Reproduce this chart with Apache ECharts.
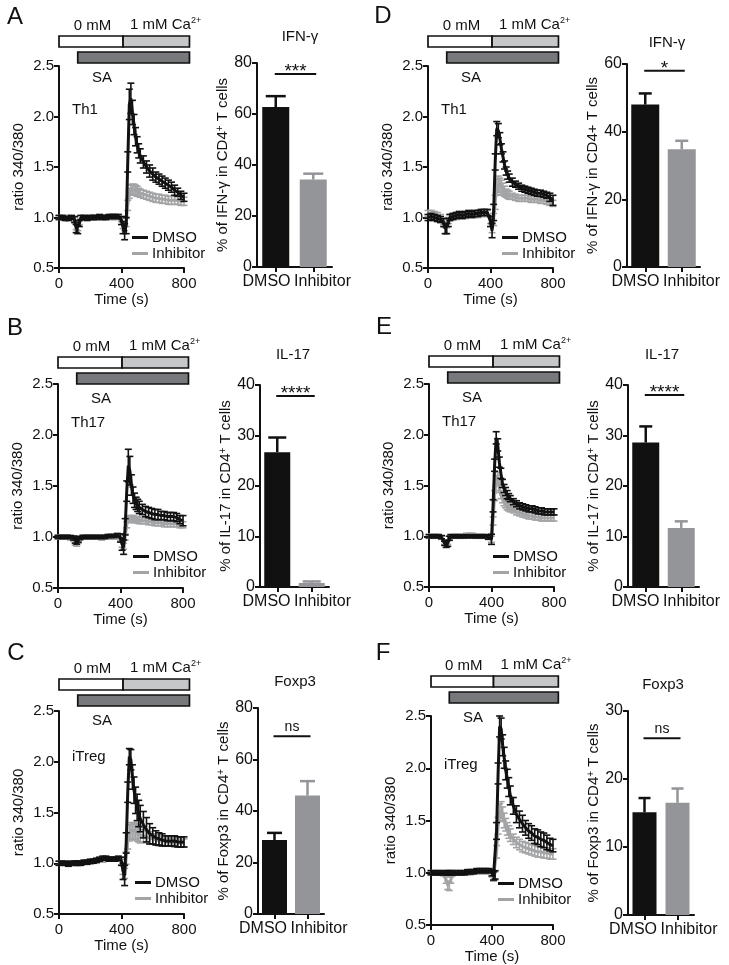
<!DOCTYPE html>
<html><head><meta charset="utf-8">
<script src="https://cdn.jsdelivr.net/npm/echarts/dist/echarts.min.js"></script>
<style>html,body{margin:0;padding:0;background:#fff}#c{width:729px;height:965px}</style>
</head><body><div id="c"></div>
<script>
// ---------- DATA ----------
const timeS = [0,20,40,60,80,100,110,120,130,140,160,180,200,220,240,260,280,300,320,340,360,380,400,410,420,430,440,450,460,470,480,490,500,510,520,540,560,580,600,620,640,660,680,700,720,740,760,780,800];

const dmsoA = [1.00,1.00,0.99,0.99,1.00,0.98,0.89,0.88,0.94,1.00, 1.00,0.99,1.00,1.00,1.00,1.01,1.00,1.00,1.01,1.01,1.01,1.01, 0.97,0.90,0.86,0.92,1.55,2.12,2.18,2.04,1.92,1.80,1.72,1.66,1.61, 1.55,1.50,1.46,1.43,1.40,1.38,1.36,1.34,1.32,1.30,1.27,1.25,1.22,1.20];
const dmsoErrA = [0.02,0.02,0.02,0.02,0.02,0.03,0.04,0.04,0.03,0.02, 0.02,0.02,0.02,0.02,0.02,0.02,0.02,0.02,0.02,0.02,0.02,0.02, 0.04,0.06,0.08,0.08,0.10,0.15,0.15,0.12,0.10,0.09,0.08,0.07,0.07, 0.06,0.06,0.06,0.06,0.05,0.05,0.05,0.05,0.05,0.05,0.05,0.04,0.04,0.04];
const inhA = [1.00,1.00,1.00,1.00,1.00,0.98,0.91,0.90,0.95,1.00, 1.00,1.00,1.00,1.00,1.00,1.00,1.00,1.00,1.00,1.00,1.00,1.00, 0.98,0.92,0.90,0.95,1.12,1.24,1.27,1.28,1.28,1.27,1.26,1.25,1.24, 1.23,1.22,1.21,1.20,1.19,1.19,1.18,1.18,1.17,1.17,1.17,1.17,1.16,1.16];
const inhErrA = [0.02,0.02,0.02,0.02,0.02,0.02,0.03,0.03,0.02,0.02, 0.02,0.02,0.02,0.02,0.02,0.02,0.02,0.02,0.02,0.02,0.02,0.02, 0.02,0.03,0.03,0.04,0.05,0.05,0.05,0.05,0.05,0.05,0.05,0.04,0.04, 0.04,0.04,0.04,0.04,0.04,0.04,0.04,0.04,0.04,0.04,0.04,0.04,0.04,0.04];

const dmsoB = [1.00,1.00,1.00,1.00,1.00,0.99,0.97,0.96,0.97,0.99, 1.00,1.00,1.00,1.00,1.00,1.00,1.00,1.00,1.01,1.01,1.01,1.02, 0.99,0.93,0.90,1.10,1.45,1.70,1.65,1.51,1.41,1.36,1.33,1.31,1.29, 1.27,1.25,1.24,1.23,1.22,1.22,1.21,1.21,1.20,1.20,1.20,1.19,1.17,1.16];
const dmsoErrB = [0.015,0.015,0.015,0.015,0.015,0.02,0.03,0.03,0.02,0.015, 0.015,0.015,0.015,0.015,0.015,0.015,0.015,0.015,0.015,0.015,0.015,0.015, 0.04,0.06,0.07,0.08,0.10,0.16,0.14,0.10,0.08,0.07,0.06,0.06,0.06, 0.05,0.05,0.05,0.05,0.05,0.05,0.04,0.04,0.04,0.04,0.04,0.04,0.04,0.05];
const inhB = [1.00,1.00,1.00,1.00,0.99,0.98,0.95,0.94,0.96,0.99, 1.00,1.00,1.00,1.00,1.00,1.00,0.99,1.00,1.00,1.00,1.00,1.00, 0.98,0.93,0.91,1.00,1.12,1.17,1.18,1.18,1.18,1.17,1.17,1.17,1.16, 1.16,1.16,1.15,1.15,1.14,1.14,1.14,1.13,1.13,1.13,1.13,1.13,1.12,1.12];
const inhErrB = [0.02,0.02,0.02,0.02,0.02,0.02,0.03,0.03,0.02,0.02, 0.02,0.02,0.02,0.02,0.02,0.02,0.02,0.02,0.02,0.02,0.02,0.02, 0.02,0.03,0.03,0.03,0.03,0.03,0.03,0.03,0.03,0.03,0.03,0.03,0.03, 0.03,0.03,0.03,0.03,0.03,0.03,0.03,0.03,0.03,0.03,0.03,0.03,0.03,0.03];

const dmsoC = [1.00,1.00,1.00,0.99,1.00,1.00,1.00,1.00,1.00,1.00, 1.01,1.01,1.02,1.02,1.03,1.04,1.05,1.05,1.04,1.04,1.04,1.05, 1.02,0.92,0.88,1.20,1.70,2.05,2.02,1.85,1.72,1.62,1.55,1.49,1.44, 1.38,1.33,1.29,1.27,1.25,1.24,1.23,1.22,1.22,1.22,1.22,1.21,1.21,1.21];
const dmsoErrC = [0.02,0.02,0.02,0.02,0.02,0.02,0.02,0.02,0.02,0.02, 0.02,0.02,0.02,0.02,0.02,0.02,0.02,0.02,0.02,0.02,0.02,0.02, 0.04,0.08,0.10,0.10,0.10,0.08,0.10,0.12,0.13,0.13,0.13,0.13,0.13, 0.13,0.12,0.10,0.08,0.07,0.06,0.06,0.05,0.05,0.05,0.05,0.05,0.05,0.05];
const inhC = [1.00,1.00,1.00,1.00,1.00,1.00,1.00,1.00,1.00,1.00, 1.01,1.01,1.01,1.02,1.02,1.03,1.03,1.04,1.04,1.04,1.04,1.04, 1.01,0.93,0.90,1.05,1.22,1.30,1.32,1.32,1.32,1.31,1.30,1.29,1.28, 1.27,1.26,1.25,1.24,1.23,1.22,1.22,1.21,1.21,1.21,1.20,1.20,1.20,1.20];
const inhErrC = [0.02,0.02,0.02,0.02,0.02,0.02,0.02,0.02,0.02,0.02, 0.02,0.02,0.02,0.02,0.02,0.02,0.02,0.02,0.02,0.02,0.02,0.02, 0.03,0.04,0.05,0.06,0.08,0.08,0.08,0.08,0.08,0.08,0.08,0.08,0.08, 0.06,0.06,0.06,0.05,0.05,0.05,0.04,0.04,0.04,0.04,0.04,0.04,0.04,0.04];

const dmsoD = [1.00,1.01,1.00,0.99,0.98,0.95,0.89,0.89,0.95,1.00, 1.01,1.02,1.03,1.02,1.03,1.04,1.03,1.04,1.04,1.05,1.05,1.05, 0.96,0.87,1.05,1.55,1.88,1.86,1.78,1.68,1.60,1.52,1.46,1.42,1.39, 1.35,1.33,1.31,1.29,1.28,1.27,1.26,1.25,1.24,1.24,1.23,1.22,1.20,1.17];
const dmsoErrD = [0.03,0.03,0.03,0.03,0.03,0.04,0.05,0.05,0.04,0.03, 0.03,0.03,0.03,0.03,0.03,0.03,0.03,0.03,0.03,0.03,0.03,0.03, 0.05,0.07,0.08,0.08,0.07,0.07,0.06,0.05,0.05,0.04,0.04,0.04,0.04, 0.04,0.03,0.03,0.03,0.03,0.03,0.03,0.03,0.03,0.03,0.03,0.03,0.04,0.05];
const inhD = [1.04,1.04,1.03,1.02,1.00,0.96,0.93,0.93,0.97,1.00, 1.01,1.01,1.02,1.02,1.02,1.03,1.03,1.03,1.03,1.04,1.04,1.04, 0.98,0.90,0.98,1.15,1.30,1.33,1.32,1.30,1.28,1.26,1.24,1.23,1.22, 1.21,1.20,1.19,1.19,1.19,1.19,1.18,1.18,1.18,1.17,1.17,1.16,1.15,1.14];
const inhErrD = [0.03,0.03,0.03,0.03,0.03,0.03,0.03,0.03,0.03,0.03, 0.03,0.03,0.03,0.03,0.03,0.03,0.03,0.03,0.03,0.03,0.03,0.03, 0.04,0.05,0.06,0.07,0.08,0.08,0.07,0.07,0.06,0.05,0.04,0.04,0.04, 0.03,0.03,0.03,0.03,0.03,0.03,0.03,0.03,0.03,0.03,0.03,0.03,0.03,0.03];

const dmsoE = [1.00,1.00,1.00,1.00,0.99,0.93,0.92,0.93,0.98,1.00, 1.00,1.00,1.00,1.00,1.00,1.00,1.00,1.00,1.00,1.00,1.00,0.99, 0.97,1.30,1.70,1.97,1.90,1.73,1.62,1.52,1.47,1.44,1.41,1.39,1.37, 1.34,1.32,1.30,1.29,1.28,1.27,1.27,1.26,1.25,1.25,1.24,1.24,1.24,1.24];
const dmsoErrE = [0.015,0.015,0.015,0.015,0.015,0.02,0.03,0.03,0.02,0.015, 0.015,0.015,0.015,0.015,0.015,0.015,0.015,0.015,0.015,0.015,0.015,0.02, 0.05,0.06,0.06,0.06,0.06,0.05,0.05,0.04,0.04,0.04,0.04,0.03,0.03, 0.03,0.03,0.03,0.03,0.03,0.03,0.03,0.03,0.03,0.03,0.03,0.03,0.03,0.03];
const inhE = [1.00,1.00,1.00,1.00,0.99,0.94,0.93,0.94,0.98,1.00, 1.00,1.00,1.00,1.00,1.01,1.01,1.01,1.00,1.00,1.00,1.00,0.99, 0.97,1.15,1.40,1.55,1.58,1.47,1.41,1.37,1.34,1.32,1.30,1.29,1.28, 1.26,1.24,1.23,1.22,1.21,1.20,1.20,1.19,1.19,1.18,1.18,1.18,1.18,1.18];
const inhErrE = [0.02,0.02,0.02,0.02,0.02,0.02,0.02,0.02,0.02,0.02, 0.02,0.02,0.02,0.02,0.02,0.02,0.02,0.02,0.02,0.02,0.02,0.02, 0.03,0.04,0.05,0.05,0.05,0.04,0.04,0.04,0.04,0.04,0.04,0.04,0.04, 0.03,0.03,0.03,0.03,0.03,0.03,0.03,0.03,0.03,0.03,0.03,0.03,0.03,0.03];

const dmsoF = [1.00,1.00,1.00,1.00,1.00,1.00,1.00,1.00,1.00,1.00, 1.00,1.00,1.00,1.00,1.01,1.01,1.01,1.02,1.02,1.02,1.02,1.02, 1.00,0.97,0.98,1.40,1.95,2.40,2.38,2.22,2.10,1.98,1.90,1.82,1.74, 1.64,1.56,1.51,1.47,1.43,1.40,1.38,1.35,1.34,1.32,1.31,1.29,1.27,1.26];
const dmsoErrF = [0.02,0.02,0.02,0.02,0.02,0.02,0.02,0.02,0.02,0.02, 0.02,0.02,0.02,0.02,0.02,0.02,0.02,0.02,0.02,0.02,0.02,0.02, 0.03,0.04,0.04,0.08,0.10,0.10,0.10,0.10,0.10,0.09,0.09,0.09,0.09, 0.08,0.08,0.08,0.08,0.07,0.07,0.07,0.07,0.07,0.07,0.07,0.07,0.06,0.06];
const inhF = [1.00,1.00,1.00,1.00,0.99,0.93,0.88,0.87,0.93,0.99, 1.00,1.00,1.00,1.00,1.00,1.00,1.01,1.01,1.01,1.01,1.01,1.01, 0.99,0.96,0.97,1.20,1.45,1.58,1.60,1.56,1.50,1.46,1.42,1.39,1.36, 1.32,1.29,1.27,1.25,1.24,1.23,1.22,1.21,1.20,1.20,1.19,1.19,1.18,1.18];
const inhErrF = [0.02,0.02,0.02,0.02,0.02,0.03,0.04,0.04,0.03,0.02, 0.02,0.02,0.02,0.02,0.02,0.02,0.02,0.02,0.02,0.02,0.02,0.02, 0.03,0.04,0.04,0.06,0.08,0.08,0.08,0.07,0.07,0.06,0.06,0.06,0.06, 0.05,0.05,0.05,0.05,0.05,0.05,0.05,0.05,0.05,0.05,0.05,0.05,0.05,0.05];

// stimulation protocol (time, s)
const calciumStart = [0, 410];
const calciumEnd = [410, 835];
const calciumLabels = ['0 mM', '1 mM Ca{s|2+}'];
const saStart = 120, saEnd = 835;
const saLabel = 'SA';

// bar charts
const groups = ['DMSO', 'Inhibitor'];
const ifngA = [62.7, 34.3], ifngAErr = [4.3, 2.3];
const il17B = [26.7, 0.8], il17BErr = [2.9, 0.3];
const foxp3C = [28.7, 46.0], foxp3CErr = [2.8, 5.6];
const ifngD = [48.0, 34.8], ifngDErr = [3.3, 2.5];
const il17E = [28.6, 11.7], il17EErr = [3.2, 1.3];
const foxp3F = [15.1, 16.5], foxp3FErr = [2.1, 2.1];
const sigLevels = [75.7, 37.8, 69, 58, 38, 26];
const sigLabels = ['***', '****', 'ns', '*', '****', 'ns'];

// ---------- STYLE / LAYOUT ----------
const FONT = '"Liberation Sans", Arial, Helvetica, sans-serif';
const INK = '#111111';
const GRAY_LINE = '#a3a4a6';
const GRAY_BAR = '#939598';
const barColors = [INK, GRAY_BAR];
const caLabelT = [215, 455], saLabelT = 275;

const linePanels = [
  {letter:'A', letterPos:[15,17], grid:{left:59,top:66,width:125,height:202}, gap:3, cell:'Th1', cellY:110, legend:{left:132,top:230}, dmso:dmsoA, dmsoErr:dmsoErrA, inh:inhA, inhErr:inhErrA},
  {letter:'B', letterPos:[15,328], grid:{left:58,top:384,width:125,height:204}, gap:0, cell:'Th17', cellY:423, legend:{left:133,top:549}, dmso:dmsoB, dmsoErr:dmsoErrB, inh:inhB, inhErr:inhErrB},
  {letter:'C', letterPos:[16,653], grid:{left:59,top:711,width:125,height:203}, gap:5, cell:'iTreg', cellY:757, legend:{left:135,top:875}, dmso:dmsoC, dmsoErr:dmsoErrC, inh:inhC, inhErr:inhErrC},
  {letter:'D', letterPos:[383,16], grid:{left:428,top:66,width:125,height:202}, gap:3, cell:'Th1', cellY:110, legend:{left:502,top:230}, dmso:dmsoD, dmsoErr:dmsoErrD, inh:inhD, inhErr:inhErrD},
  {letter:'E', letterPos:[384,327], grid:{left:429,top:384,width:125,height:203}, gap:1, cell:'Th17', cellY:422, legend:{left:493,top:549}, dmso:dmsoE, dmsoErr:dmsoErrE, inh:inhE, inhErr:inhErrE},
  {letter:'F', letterPos:[383,653], grid:{left:431,top:716,width:122,height:209}, gap:13, cell:'iTreg', cellY:765, legend:{left:498,top:876}, dmso:dmsoF, dmsoErr:dmsoErrF, inh:inhF, inhErr:inhErrF}
];

const barPanels = [
  {title:'IFN-γ', titlePos:[300,37], grid:{left:257,top:63,width:75,height:204}, max:80, interval:20, yName:'% of IFN-γ in CD4{s|+} T cells', barWidth:27, cap:20, vals:ifngA, errs:ifngAErr},
  {title:'IL-17', titlePos:[293,355], grid:{left:260,top:385,width:69,height:202}, max:40, interval:10, yName:'% of IL-17 in CD4{s|+} T cells', barWidth:26, cap:18, vals:il17B, errs:il17BErr},
  {title:'Foxp3', titlePos:[295,682], grid:{left:258,top:708,width:66,height:206}, max:80, interval:20, yName:'% of Foxp3 in CD4{s|+} T cells', barWidth:25, cap:15, vals:foxp3C, errs:foxp3CErr},
  {title:'IFN-γ', titlePos:[667,43], grid:{left:627,top:64,width:73,height:203}, max:60, interval:20, yName:'% of IFN-γ in CD4+ T cells', barWidth:28, cap:13, vals:ifngD, errs:ifngDErr},
  {title:'IL-17', titlePos:[662,355], grid:{left:628,top:385,width:71,height:202}, max:40, interval:10, yName:'% of IL-17 in CD4{s|+} T cells', barWidth:27, cap:13, vals:il17E, errs:il17EErr},
  {title:'Foxp3', titlePos:[663,685], grid:{left:628,top:711,width:66,height:204}, max:30, interval:10, yName:'% of Foxp3 in CD4{s|+} T cells', barWidth:24, cap:12, vals:foxp3F, errs:foxp3FErr}
];

const supRich = {s:{fontSize:10, fontFamily:FONT, color:INK, verticalAlign:'top', lineHeight:16}};

function axisCommon(){
  return {
    axisLine:{show:true, onZero:false, lineStyle:{color:INK, width:2}},
    axisTick:{show:true, length:5, inside:false, lineStyle:{color:INK, width:2}},
    splitLine:{show:false}
  };
}

function errRenderer(color, capHalf, lw){
  return function(params, api){
    const x = api.value(0), y = api.value(1), e = api.value(2);
    const hi = api.coord([x, y + e]), lo = api.coord([x, y - e]);
    return {type:'group', children:[
      {type:'line', shape:{x1:lo[0], y1:lo[1], x2:hi[0], y2:hi[1]}, style:{stroke:color, lineWidth:lw}},
      {type:'line', shape:{x1:hi[0]-capHalf, y1:hi[1], x2:hi[0]+capHalf, y2:hi[1]}, style:{stroke:color, lineWidth:lw}},
      {type:'line', shape:{x1:lo[0]-capHalf, y1:lo[1], x2:lo[0]+capHalf, y2:lo[1]}, style:{stroke:color, lineWidth:lw}}
    ]};
  };
}

function stimRenderer(gap){
  return function(params, api){
    const top = api.coord([0, 2.5])[1];
    const b2b = top - gap, b2t = b2b - 11, b1b = b2t - 5, b1t = b1b - 11;
    const x0 = api.coord([api.value(0), 1])[0];
    const xm = api.coord([api.value(1), 1])[0];
    const x1 = api.coord([api.value(2), 1])[0];
    const xs = api.coord([api.value(3), 1])[0];
    const xe = api.coord([api.value(4), 1])[0];
    const l0 = api.coord([caLabelT[0], 1])[0], l1 = api.coord([caLabelT[1], 1])[0], ls = api.coord([saLabelT, 1])[0];
    const st = {stroke:INK, lineWidth:1.7};
    const ts = {fontSize:15, fontFamily:FONT, fill:INK};
    return {type:'group', children:[
      {type:'rect', shape:{x:x0, y:b1t, width:xm-x0, height:11}, style:Object.assign({fill:'#ffffff'}, st)},
      {type:'rect', shape:{x:xm, y:b1t, width:x1-xm, height:11}, style:Object.assign({fill:'#c6c7c9'}, st)},
      {type:'rect', shape:{x:xs, y:b2t, width:xe-xs, height:11}, style:Object.assign({fill:'#78797c'}, st)},
      {type:'text', x:l0, y:b1t-3, style:Object.assign({text:calciumLabels[0], align:'center', verticalAlign:'bottom'}, ts)},
      {type:'text', x:l1, y:b1t-3, style:Object.assign({text:calciumLabels[1], align:'left', verticalAlign:'bottom', rich:{s:{fontSize:9, fontFamily:FONT, fill:INK, verticalAlign:'top', lineHeight:17}}}, ts)},
      {type:'text', x:ls, y:b2b+15, style:Object.assign({text:saLabel, align:'center', verticalAlign:'middle'}, ts)}
    ]};
  };
}

const option = {animation:false, backgroundColor:'#ffffff', grid:[], xAxis:[], yAxis:[], series:[], legend:[], graphic:[]};

linePanels.forEach((p, i) => {
  option.grid.push(Object.assign({containLabel:false, outerBoundsMode:'none'}, p.grid));
  option.xAxis.push(Object.assign(axisCommon(), {
    gridIndex:i, type:'value', min:0, max:800, interval:400,
    name:'Time (s)', nameLocation:'middle', nameGap:22,
    nameTextStyle:{fontSize:15, fontFamily:FONT, color:INK},
    axisLabel:{fontSize:15, fontFamily:FONT, color:INK, margin:8}
  }));
  option.yAxis.push(Object.assign(axisCommon(), {
    gridIndex:i, type:'value', min:0.5, max:2.5, interval:0.5,
    name:'ratio 340/380', nameLocation:'middle', nameGap:33,
    nameTextStyle:{fontSize:15, fontFamily:FONT, color:INK},
    axisLabel:{fontSize:15, fontFamily:FONT, color:INK, margin:5, formatter:v => v.toFixed(1)}
  }));
  option.series.push({
    type:'custom', xAxisIndex:i, yAxisIndex:i, clip:false, silent:true, z:5,
    renderItem:stimRenderer(p.gap),
    data:[[calciumStart[0], calciumStart[1], calciumEnd[1], saStart, saEnd]]
  });
  option.series.push({
    type:'custom', name:'inhErr', xAxisIndex:i, yAxisIndex:i, silent:true, z:2,
    renderItem:errRenderer(GRAY_LINE, 3.5, 1.6), encode:{x:0, y:1},
    data:timeS.map((t, k) => [t, p.inh[k], p.inhErr[k]])
  });
  option.series.push({
    type:'line', name:'Inhibitor', xAxisIndex:i, yAxisIndex:i, z:3, color:GRAY_LINE,
    showSymbol:false, symbol:'none', lineStyle:{color:GRAY_LINE, width:3}, itemStyle:{color:GRAY_LINE},
    data:timeS.map((t, k) => [t, p.inh[k]])
  });
  option.series.push({
    type:'custom', name:'dmsoErr', xAxisIndex:i, yAxisIndex:i, silent:true, z:4,
    renderItem:errRenderer(INK, 3.5, 1.6), encode:{x:0, y:1},
    data:timeS.map((t, k) => [t, p.dmso[k], p.dmsoErr[k]])
  });
  option.series.push({
    type:'line', name:'DMSO', xAxisIndex:i, yAxisIndex:i, z:4, color:INK,
    showSymbol:false, symbol:'none', lineStyle:{color:INK, width:3}, itemStyle:{color:INK},
    data:timeS.map((t, k) => [t, p.dmso[k]])
  });
  option.legend.push({
    data:['DMSO', 'Inhibitor'], left:p.legend.left, top:p.legend.top, orient:'vertical',
    icon:'rect', itemWidth:16, itemHeight:3, itemGap:1, selectedMode:false, padding:0,
    textStyle:{fontSize:15, fontFamily:FONT, color:INK, padding:[0,0,0,-1]}
  });
  option.graphic.push({type:'text', x:p.letterPos[0], y:p.letterPos[1], style:{text:p.letter, fontSize:24, fontFamily:FONT, fill:INK, align:'center', verticalAlign:'middle'}});
  option.graphic.push({type:'text', x:p.grid.left + 13, y:p.cellY, style:{text:p.cell, fontSize:15, fontFamily:FONT, fill:INK, align:'left', verticalAlign:'middle'}});
});

barPanels.forEach((b, j) => {
  const gi = linePanels.length + j;
  const shift = Math.max(0, 28 - b.grid.width / 4) * 2;
  option.grid.push(Object.assign({containLabel:false, outerBoundsMode:'none'}, b.grid));
  option.xAxis.push(Object.assign(axisCommon(), {
    gridIndex:gi, type:'category',
    data:[
      {value:groups[0], textStyle:{padding:[0, shift, 0, 0]}},
      {value:groups[1], textStyle:{padding:[0, 0, 0, shift]}}
    ],
    axisTick:{show:true, alignWithLabel:true, length:5, lineStyle:{color:INK, width:2}},
    axisLabel:{fontSize:16, fontFamily:FONT, color:INK, margin:7, interval:0}
  }));
  option.yAxis.push(Object.assign(axisCommon(), {
    gridIndex:gi, type:'value', min:0, max:b.max, interval:b.interval,
    name:b.yName, nameLocation:'middle', nameGap:25,
    nameTextStyle:{fontSize:15, fontFamily:FONT, color:INK, rich:supRich},
    axisLabel:{fontSize:16, fontFamily:FONT, color:INK, margin:5}
  }));
  option.series.push({
    type:'bar', xAxisIndex:gi, yAxisIndex:gi, barWidth:b.barWidth, silent:true,
    data:b.vals.map((v, k) => ({value:v, itemStyle:{color:barColors[k]}}))
  });
  option.series.push({
    type:'custom', xAxisIndex:gi, yAxisIndex:gi, silent:true, z:3, encode:{x:0, y:1},
    renderItem:function(params, api){
      const k = api.value(0), v = api.value(1), e = api.value(2);
      const lo = api.coord([k, v]), hi = api.coord([k, v + e]);
      const c = barColors[k], h = b.cap / 2;
      return {type:'group', children:[
        {type:'line', shape:{x1:lo[0], y1:lo[1], x2:hi[0], y2:hi[1]}, style:{stroke:c, lineWidth:2.5}},
        {type:'line', shape:{x1:hi[0]-h, y1:hi[1], x2:hi[0]+h, y2:hi[1]}, style:{stroke:c, lineWidth:2.5}}
      ]};
    },
    data:b.vals.map((v, k) => [k, v, b.errs[k]])
  });
  const isStar = sigLabels[j].indexOf('*') >= 0;
  option.series.push({
    type:'custom', xAxisIndex:gi, yAxisIndex:gi, silent:true, z:3, clip:false,
    renderItem:function(params, api){
      const y = api.value(1);
      const a = api.coord([0, y]), c = api.coord([1, y]);
      return {type:'group', children:[
        {type:'line', shape:{x1:a[0]-1, y1:a[1], x2:c[0]+3, y2:c[1]}, style:{stroke:INK, lineWidth:2}},
        {type:'text', x:(a[0]+c[0])/2 + 1, y:a[1] - (isStar ? 2 : 9),
         style:{text:sigLabels[j], fontSize:isStar ? 19 : 14, fontFamily:FONT, fill:INK, align:'center', verticalAlign:'middle'}}
      ]};
    },
    data:[[0, sigLevels[j]]]
  });
  option.graphic.push({type:'text', x:b.titlePos[0], y:b.titlePos[1], style:{text:b.title, fontSize:15, fontFamily:FONT, fill:INK, align:'center', verticalAlign:'middle'}});
});

const chart = echarts.init(document.getElementById('c'), null, {renderer:'canvas'});
chart.setOption(option);
</script>
</body></html>
